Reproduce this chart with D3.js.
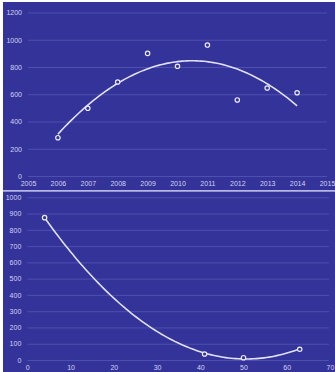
<!DOCTYPE html>
<html><head><meta charset="utf-8">
<script src="https://cdn.jsdelivr.net/npm/d3@7"></script>
<style>
html,body{margin:0;padding:0;background:#fff;}
svg{display:block;}
text{font-family:"Liberation Sans",Arial,sans-serif;font-size:7px;fill:#d4d4f2;}
</style></head>
<body><svg id="c" width="335" height="372"></svg>
<script>
// Top chart data
const topYears = [2006, 2007, 2008, 2009, 2010, 2011, 2012, 2013, 2014];
const topValues = [281, 497, 690, 900, 805, 961, 558, 646, 611];
const topXTicks = [2005, 2006, 2007, 2008, 2009, 2010, 2011, 2012, 2013, 2014, 2015];
const topYTicks = [0, 200, 400, 600, 800, 1000, 1200];
// Bottom chart data
const botX = [4, 41, 50, 63];
const botValues = [875, 37, 14, 66];
const botXTicks = [0, 10, 20, 30, 40, 50, 60, 70];
const botYTicks = [0, 100, 200, 300, 400, 500, 600, 700, 800, 900, 1000];

const BG = "#333399", GRID = "#4f4fb0", LINE = "#e0e0f6";
const svg = d3.select("#c");

// quadratic least-squares fit
function quadFit(xs, ys) {
  const n = xs.length;
  let S = [0,0,0,0,0], T = [0,0,0];
  for (let i = 0; i < n; i++) {
    const x = xs[i], y = ys[i];
    for (let k = 0; k < 5; k++) S[k] += Math.pow(x, k);
    for (let k = 0; k < 3; k++) T[k] += Math.pow(x, k) * y;
  }
  const M = [[S[0],S[1],S[2],T[0]],[S[1],S[2],S[3],T[1]],[S[2],S[3],S[4],T[2]]];
  for (let i = 0; i < 3; i++) {
    let p = i;
    for (let r = i+1; r < 3; r++) if (Math.abs(M[r][i]) > Math.abs(M[p][i])) p = r;
    const tmp = M[i]; M[i] = M[p]; M[p] = tmp;
    for (let r = 0; r < 3; r++) if (r !== i) {
      const f = M[r][i] / M[i][i];
      for (let c = i; c < 4; c++) M[r][c] -= f * M[i][c];
    }
  }
  const c = M.map((row, i) => row[3] / row[i]);
  return x => c[0] + c[1]*x + c[2]*x*x;
}

function panel(o) {
  const g = svg.append("g");
  g.append("rect").attr("x", o.bx).attr("y", o.by).attr("width", o.bw).attr("height", o.bh).attr("fill", BG);
  const x = d3.scaleLinear().domain(o.xDom).range(o.xRange);
  const y = d3.scaleLinear().domain(o.yDom).range(o.yRange);
  const yAxis = d3.axisLeft(y).tickValues(o.yTicks).tickSize(-(o.gridRight - o.xRange[0])).tickPadding(6).tickFormat(d3.format("d"));
  const ya = g.append("g").attr("transform", `translate(${o.xRange[0]},0)`).call(yAxis);
  ya.select(".domain").remove();
  ya.selectAll(".tick line").attr("stroke", GRID).attr("stroke-width", 1);
  ya.selectAll(".tick text").attr("fill", "#d4d4f2");
  const xAxis = d3.axisBottom(x).tickValues(o.xTicks).tickSize(0).tickPadding(o.xPad).tickFormat(d3.format("d"));
  const xa = g.append("g").attr("transform", `translate(0,${o.yRange[0]})`).call(xAxis);
  xa.select(".domain").remove();
  xa.selectAll(".tick text").attr("fill", "#d4d4f2");
  // trend
  const off = o.off || 0;
  const f = quadFit(o.xs.map(v => v - off), o.ys);
  const lo = d3.min(o.xs), hi = d3.max(o.xs);
  const pts = d3.range(0, 101).map(i => { const xv = lo + (hi - lo) * i / 100; return [xv, f(xv - off)]; });
  g.append("path").attr("d", d3.line().x(d => x(d[0])).y(d => y(d[1])).curve(d3.curveLinear)(pts))
    .attr("fill", "none").attr("stroke", LINE).attr("stroke-width", 1.6);
  g.selectAll("circle.p").data(o.xs).join("circle").attr("class", "p")
    .attr("cx", (d) => x(d)).attr("cy", (d, i) => y(o.ys[i])).attr("r", 2.2)
    .attr("fill", BG).attr("stroke", "#ececfa").attr("stroke-width", 1.2);
}

panel({bx: 3, by: 2, bw: 332, bh: 188, xDom: [2005, 2015], xRange: [28, 327], yDom: [0, 1200], yRange: [176, 12.5],
  gridRight: 327, xTicks: topXTicks, yTicks: topYTicks, xs: topYears, ys: topValues, off: 2010, xPad: 5});
svg.append("rect").attr("x", 3).attr("y", 190).attr("width", 332).attr("height", 1.6).attr("fill", "#b8b8e6");
panel({bx: 3, by: 191.6, bw: 332, bh: 180.4, xDom: [0, 70], xRange: [27.3, 330], yDom: [0, 1000], yRange: [360, 197.3],
  gridRight: 329, xTicks: botXTicks, yTicks: botYTicks, xs: botX, ys: botValues, off: 0, xPad: 5});
</script></body></html>
